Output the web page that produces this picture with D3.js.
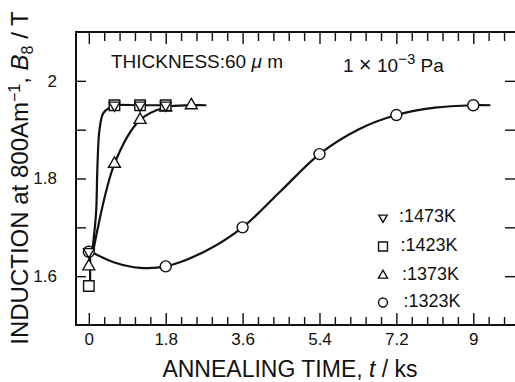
<!DOCTYPE html>
<html>
<head>
<meta charset="utf-8">
<script src="https://cdn.jsdelivr.net/npm/d3@7"></script>
<style>
  body { margin: 0; background: #fff; }
  svg text { font-family: "Liberation Sans", Arial, Helvetica, sans-serif; fill: #111; }
</style>
</head>
<body>
<div id="wrapper"></div>
<script>
// data (time in ks, induction B8 in T)
const t1323 = [0, 1.8, 3.6, 5.4, 7.2, 9];
const b1323 = [1.65, 1.62, 1.70, 1.85, 1.93, 1.95];
const t1373 = [0, 0.6, 1.2, 1.8, 2.4];
const b1373 = [1.62, 1.83, 1.92, 1.945, 1.95];
const t1423 = [0, 0.6, 1.2, 1.8];
const b1423 = [1.58, 1.95, 1.95, 1.95];
const t1473 = [0, 0.6, 1.2, 1.8];
const b1473 = [1.65, 1.95, 1.95, 1.95];

// hand drawn fitting curves
const fit1323T = [0.05, 0.6, 1.2, 1.8, 2.7, 3.6, 4.5, 5.4, 6.3, 7.2, 8.1, 9, 9.4];
const fit1323B = [1.65, 1.628, 1.617, 1.62, 1.65, 1.70, 1.775, 1.85, 1.90, 1.93, 1.945, 1.95, 1.95];
const fit1373T = [0.1, 0.6, 1.2, 1.8, 2.4, 2.75];
const fit1373B = [1.65, 1.83, 1.92, 1.946, 1.95, 1.95];
const fitFastT = [0.08, 0.17, 0.2, 0.25, 0.34, 0.5, 0.6, 1.2, 1.8];
const fitFastB = [1.65, 1.73, 1.82, 1.90, 1.934, 1.946, 1.95, 1.95, 1.95];
const linkT = [0.03, 0.03];
const linkB = [1.59, 1.65];

const xMajor = [0, 1.8, 3.6, 5.4, 7.2, 9];
const xLabels = ["0", "1.8", "3.6", "5.4", "7.2", "9"];
const yMajor = [1.6, 1.8, 2.0];
const yLabels = ["1.6", "1.8", "2"];
const yAll = [1.6, 1.7, 1.8, 1.9, 2.0];

const legendNames = [":1473K", ":1423K", ":1373K", ":1323K"];

let dimensions = {
    width: 515,
    height: 382,
    left: 76,
    right: 516,
    top: 32,
    bottom: 325
};

const wrapper = d3.select('#wrapper')
    .append('svg')
    .attr('width', dimensions.width)
    .attr('height', dimensions.height);

wrapper.append('rect')
    .attr('width', dimensions.width)
    .attr('height', dimensions.height)
    .attr('fill', '#fff');

const xScale = d3.scaleLinear()
    .domain([-0.3, 10])
    .range([dimensions.left, dimensions.right]);
const yScale = d3.scaleLinear()
    .domain([1.5, 2.1])
    .range([dimensions.bottom, dimensions.top]);

const xMinor = d3.range(0, 9.9, 0.36).filter(v => !xMajor.some(m => Math.abs(m - v) < 0.01));

// axes, ticks pointing inwards
function axisStyle(g) {
    g.select('.domain').remove();
    g.selectAll('.tick line').attr('stroke', '#111').attr('stroke-width', 1.4);
    g.selectAll('.tick text')
        .style('font-family', '"Liberation Sans", Arial, sans-serif')
        .style('font-size', '17px')
        .attr('fill', '#111');
}

wrapper.append('g')
    .attr('transform', `translate(0,${dimensions.bottom})`)
    .call(d3.axisBottom(xScale).tickValues(xMajor)
        .tickFormat((d, i) => xLabels[i]).tickSize(-12).tickSizeOuter(0).tickPadding(8))
    .call(axisStyle);
wrapper.append('g')
    .attr('transform', `translate(0,${dimensions.bottom})`)
    .call(d3.axisBottom(xScale).tickValues(xMinor).tickFormat('').tickSize(-8).tickSizeOuter(0))
    .call(axisStyle);
wrapper.append('g')
    .attr('transform', `translate(0,${dimensions.top})`)
    .call(d3.axisTop(xScale).tickValues(xMajor).tickFormat('').tickSize(-12).tickSizeOuter(0))
    .call(axisStyle);
wrapper.append('g')
    .attr('transform', `translate(0,${dimensions.top})`)
    .call(d3.axisTop(xScale).tickValues(xMinor).tickFormat('').tickSize(-9).tickSizeOuter(0))
    .call(axisStyle);

wrapper.append('g')
    .attr('transform', `translate(${dimensions.left},0)`)
    .call(d3.axisLeft(yScale).tickValues(yAll)
        .tickFormat(d => { const i = yMajor.findIndex(m => Math.abs(m - d) < 1e-6); return i < 0 ? '' : yLabels[i]; })
        .tickSize(-10).tickSizeOuter(0).tickPadding(19))
    .call(axisStyle);
wrapper.append('g')
    .attr('transform', `translate(${dimensions.right},0)`)
    .call(d3.axisRight(yScale).tickValues(yAll).tickFormat('').tickSize(-11).tickSizeOuter(0))
    .call(axisStyle);

// frame
wrapper.append('rect')
    .attr('x', dimensions.left)
    .attr('y', dimensions.top)
    .attr('width', dimensions.right - dimensions.left)
    .attr('height', dimensions.bottom - dimensions.top)
    .attr('fill', 'none')
    .attr('stroke', '#111')
    .attr('stroke-width', 2);

// fitting curves
const lineDrawer = d3.line()
    .x(d => xScale(d[0]))
    .y(d => yScale(d[1]))
    .curve(d3.curveCatmullRom.alpha(0.5));
const zip = (a, b) => a.map((v, i) => [v, b[i]]);

[[fit1323T, fit1323B], [fit1373T, fit1373B], [fitFastT, fitFastB], [linkT, linkB]].forEach(([ts, bs]) => {
    wrapper.append('path')
        .attr('d', lineDrawer(zip(ts, bs)))
        .attr('fill', 'none')
        .attr('stroke', '#111')
        .attr('stroke-width', 2.2);
});

// markers
const sym = (type, size) => d3.symbol().type(type).size(size);
function drawMarkers(ts, bs, type, size, fill, rotate) {
    wrapper.append('g').selectAll('path')
        .data(zip(ts, bs))
        .join('path')
        .attr('d', sym(type, size))
        .attr('transform', d => `translate(${xScale(d[0])},${yScale(d[1])})` + (rotate ? ' rotate(180)' : ''))
        .attr('fill', fill)
        .attr('stroke', '#111')
        .attr('stroke-width', 1.4);
}
drawMarkers(t1323, b1323, d3.symbolCircle, 95, '#fff', false);
drawMarkers(t1373, b1373, d3.symbolTriangle, 62, '#fff', false);
drawMarkers(t1423, b1423, d3.symbolSquare, 110, '#fff', false);
drawMarkers(t1473, b1473, d3.symbolTriangle, 50, 'none', true);

// legend
const legendTypes = [d3.symbolTriangle, d3.symbolSquare, d3.symbolTriangle, d3.symbolCircle];
const legendSizes = [30, 80, 36, 62];
const legendRot = [true, false, false, false];
const legendY = [221.5, 250.5, 279.5, 306.5];
legendNames.forEach((name, i) => {
    wrapper.append('path')
        .attr('d', sym(legendTypes[i], legendSizes[i])())
        .attr('transform', `translate(383,${legendY[i] - 4})` + (legendRot[i] ? ' rotate(180)' : ''))
        .attr('fill', '#fff')
        .attr('stroke', '#111')
        .attr('stroke-width', 1.4);
    wrapper.append('text')
        .attr('x', 399 + i * 1.5)
        .attr('y', legendY[i])
        .style('font-size', '18px')
        .text(name);
});

// annotations
const thick = wrapper.append('text')
    .attr('x', 111)
    .attr('y', 68)
    .style('font-size', '19px');
thick.append('tspan').text('THICKNESS:60 ');
thick.append('tspan').style('font-style', 'italic').text('μ');
thick.append('tspan').text(' m');

const pa = wrapper.append('text')
    .attr('x', 343)
    .attr('y', 72)
    .style('font-size', '19px');
pa.append('tspan').text('1 ');
pa.append('tspan').style('font-size', '22px').text('×');
pa.append('tspan').text(' 10');
pa.append('tspan').attr('dy', -8).style('font-size', '15px').text('−3');
pa.append('tspan').attr('dy', 8).text(' Pa');

// axis titles
const xt = wrapper.append('text')
    .attr('x', 290)
    .attr('y', 377)
    .attr('text-anchor', 'middle')
    .style('font-size', '23px');
xt.append('tspan').text('ANNEALING  TIME, ');
xt.append('tspan').style('font-style', 'italic').text('t');
xt.append('tspan').text(' / ks');

const yt = wrapper.append('text')
    .attr('transform', 'translate(28,178) rotate(-90)')
    .attr('text-anchor', 'middle')
    .style('font-size', '24px');
yt.append('tspan').text('INDUCTION  at  800Am');
yt.append('tspan').attr('dy', -8).style('font-size', '16px').text('−1');
yt.append('tspan').attr('dy', 8).text(', ');
yt.append('tspan').style('font-style', 'italic').text('B');
yt.append('tspan').attr('dy', 5).style('font-size', '16px').text('8');
yt.append('tspan').attr('dy', -5).text(' / T');
</script>
</body>
</html>
